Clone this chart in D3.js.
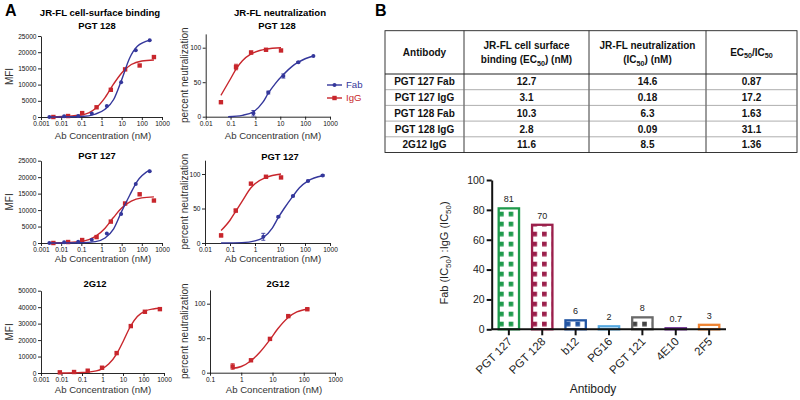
<!DOCTYPE html>
<html>
<head>
<meta charset="utf-8">
<script src="https://cdn.jsdelivr.net/npm/d3@7"></script>
<style>
  body { margin: 0; background: #fff; }
  svg { display: block; }
</style>
</head>
<body>
<svg id="fig" width="800" height="400"></svg>
<script>
// ---- Panel A data: [concentration nM, value, error] ----
const bind128Fab = [[0.0026, 0], [0.014, 200], [0.07, 300], [0.33, 1100], [1.84, 3400], [9.4, 10700], [50, 20600], [246, 23700]];
const bind128IgG = [[0.0041, 0], [0.022, 300], [0.11, 1200], [0.57, 3000], [2.9, 8400], [14.8, 14700], [78, 15900], [398, 18500]];
const bind128FabFit = [[0.0026, 0], [0.1, 150], [0.5, 900], [1.5, 2400], [4, 5400], [10, 11500], [25, 18200], [60, 21800], [246, 23700]];
const bind128IgGFit = [[0.0041, 0], [0.1, 600], [0.5, 2600], [1.5, 6000], [4, 10200], [10, 13600], [30, 16200], [100, 17300], [398, 17600]];

const bind127Fab = [[0.0026, 0], [0.014, 200], [0.07, 400], [0.33, 1000], [1.84, 2900], [9.4, 8800], [50, 17900], [246, 21800]];
const bind127IgG = [[0.0041, 0], [0.022, 300], [0.11, 900], [0.57, 1800], [2.9, 6500], [14.8, 12000], [78, 14800], [398, 12900]];
const bind127FabFit = [[0.0026, 0], [0.1, 60], [0.5, 400], [1.5, 1500], [4, 4300], [10, 9600], [25, 14500], [60, 18800], [246, 22200]];
const bind127IgGFit = [[0.0041, 0], [0.1, 500], [0.5, 2000], [1.5, 4500], [4, 7800], [10, 10600], [30, 12700], [100, 13700], [398, 14000]];

const bind2G12 = [[0.0083, 400], [0.041, 600], [0.19, 1400], [0.95, 3200], [4.9, 12100], [24, 28500], [117, 37200], [630, 38800]];
const bind2G12Fit = [[0.0083, 0], [0.1, 300], [0.5, 1300], [1, 2700], [2, 5400], [5, 11800], [10, 19000], [24, 28700], [50, 34300], [117, 37600], [300, 38900], [630, 39300]];

const neut128Fab = [[0.83, 5, 4], [3.3, 35, 2], [13.3, 59, 3], [53, 79, 1], [215, 88, 0]];
const neut128IgG = [[0.041, 21, 0], [0.166, 72, 4], [0.67, 93, 2], [2.67, 97, 1], [10.7, 96, 1]];
const neut128FabFit = [[0.08, 0], [0.3, 2], [0.83, 7], [2, 21], [3.3, 34], [6.3, 48], [13.3, 61], [30, 73], [53, 79], [100, 84], [215, 88]];
const neut128IgGFit = [[0.041, 31], [0.1, 55], [0.166, 69], [0.3, 81], [0.67, 91], [1.5, 96], [2.67, 98], [10.7, 100]];

const neut127Fab = [[2.15, 9, 5], [8.6, 38, 1], [33, 68, 1], [132, 90, 1], [510, 98, 1]];
const neut127IgG = [[0.044, 11, 2], [0.17, 47, 2], [0.69, 86, 1], [2.75, 96, 1], [11, 95, 1]];
const neut127FabFit = [[0.044, 0], [0.3, 0.5], [1, 3], [2.15, 8], [5, 22], [8.6, 37], [14.6, 50], [33, 68], [60, 80], [132, 90], [510, 97.5]];
const neut127IgGFit = [[0.044, 18], [0.1, 33], [0.17, 46], [0.3, 60], [0.69, 80], [1, 86], [2.75, 95], [11, 100]];

const neut2G12 = [[0.53, 9, 4], [2.05, 18, 1], [8.3, 49, 1], [32, 82, 1], [130, 92, 1]];
const neut2G12Fit = [[0.5, 6], [1, 9], [2, 17], [4, 30], [8.3, 48], [15, 64], [32, 80], [60, 88], [130, 92]];

const bindTicks = [0.001, 0.01, 0.1, 1, 10, 100, 1000];
const neutTicks = [0.01, 0.1, 1, 10, 100, 1000];
const neut2G12Ticks = [0.1, 1, 10, 100, 1000];
const mfiTicks25 = [0, 5000, 10000, 15000, 20000, 25000];
const mfiTicks50 = [0, 10000, 20000, 30000, 40000, 50000];
const pctTicks = [0, 50, 100];

// ---- Panel B table ----
const tableAntibodies = ["PGT 127 Fab", "PGT 127 IgG", "PGT 128 Fab", "PGT 128 IgG", "2G12 IgG"];
const tableBinding = ["12.7", "3.1", "10.3", "2.8", "11.6"];
const tableNeut = ["14.6", "0.18", "6.3", "0.09", "8.5"];
const tableRatio = ["0.87", "17.2", "1.63", "31.1", "1.36"];
const tableHeaders = [
  [[{t: "Antibody"}]],
  [[{t: "JR-FL cell surface"}], [{t: "binding (EC"}, {t: "50", sub: true}, {t: ") (nM)"}]],
  [[{t: "JR-FL neutralization"}], [{t: "(IC"}, {t: "50", sub: true}, {t: ") (nM)"}]],
  [[{t: "EC"}, {t: "50", sub: true}, {t: "/IC"}, {t: "50", sub: true}]]
];

// ---- Panel B bars ----
const barAntibodies = ["PGT 127", "PGT 128", "b12", "PG16", "PGT 121", "4E10", "2F5"];
const barRatios = [81, 70, 6, 2, 8, 0.7, 3];
const barLabels = ["81", "70", "6", "2", "8", "0.7", "3"];
const barTicks = [0, 20, 40, 60, 80, 100];

const FONT = "'Liberation Sans', Arial, Helvetica, sans-serif";
const BLUE = "#34379b";
const RED = "#c8262c";
const barColors = {"PGT 127": "#1f9a4c", "PGT 128": "#9b1f4b", "b12": "#2255a3", "PG16": "#55a8e0",
                   "PGT 121": "#6a6a6a", "4E10": "#6e2f91", "2F5": "#f08533"};
const patterned = new Set(["PGT 127", "PGT 128", "b12", "PGT 121"]);

const svg = d3.select("#fig").attr("font-family", FONT);

// Text with subscript pieces
function richText(sel, parts, size) {
  let shift = 0;
  parts.forEach(p => {
    const want = p.sub ? size * 0.25 : 0;
    sel.append("tspan")
      .attr("dy", want - shift)
      .attr("font-size", p.sub ? size * 0.72 : size)
      .text(p.t);
    shift = want;
  });
}

// Panel letters and column headers
svg.append("text").attr("x", 5).attr("y", 16).attr("font-size", 16).attr("font-weight", "bold").text("A");
svg.append("text").attr("x", 375).attr("y", 16).attr("font-size", 16).attr("font-weight", "bold").text("B");
svg.append("text").attr("x", 100).attr("y", 15.5).attr("text-anchor", "middle")
  .attr("font-size", 9.6).attr("font-weight", "bold").text("JR-FL cell-surface binding");
svg.append("text").attr("x", 280).attr("y", 15.5).attr("text-anchor", "middle")
  .attr("font-size", 9.6).attr("font-weight", "bold").text("JR-FL neutralization");

// Draw one dose-response panel
function drawCurvePanel(p) {
  const x = d3.scaleLog().domain(p.xDomain).range(p.xRange);
  const y = d3.scaleLinear().domain(p.yDomain).range(p.yRange);
  const g = svg.append("g");

  const xAxis = g.append("g")
    .attr("transform", `translate(0,${p.yRange[0]})`)
    .call(d3.axisBottom(x).tickValues(p.xTicks).tickFormat(d => String(d))
      .tickSize(3).tickSizeOuter(0).tickPadding(1.5));
  const yAxis = g.append("g")
    .attr("transform", `translate(${p.xRange[0]},0)`)
    .call(d3.axisLeft(y).tickValues(p.yTicks).tickFormat(d => String(d))
      .tickSize(3).tickSizeOuter(0).tickPadding(1.5));
  [xAxis, yAxis].forEach(a => {
    a.attr("font-family", FONT).attr("font-size", 6.6);
    a.selectAll("path, line").attr("stroke", "#111").attr("stroke-width", 0.9);
    a.selectAll("text").attr("fill", "#111");
  });

  const line = d3.line().x(d => x(d[0])).y(d => y(d[1])).curve(d3.curveMonotoneX);

  p.series.forEach(s => {
    g.append("path").datum(s.fit)
      .attr("d", line).attr("fill", "none")
      .attr("stroke", s.color).attr("stroke-width", 1.4);

    // error bars
    g.append("g").selectAll("path")
      .data(s.points.filter(d => d[2]))
      .join("path")
      .attr("d", d => {
        const cx = x(d[0]), y0 = y(d[1] - d[2]), y1 = y(d[1] + d[2]);
        return `M${cx},${y0}V${y1}M${cx - 2},${y0}H${cx + 2}M${cx - 2},${y1}H${cx + 2}`;
      })
      .attr("stroke", s.color).attr("stroke-width", 0.9).attr("fill", "none");

    if (s.shape === "circle") {
      g.append("g").selectAll("circle").data(s.points).join("circle")
        .attr("cx", d => x(d[0])).attr("cy", d => y(d[1])).attr("r", 2)
        .attr("fill", s.color);
    } else {
      g.append("g").selectAll("rect").data(s.points).join("rect")
        .attr("x", d => x(d[0]) - 2.2).attr("y", d => y(d[1]) - 2.2)
        .attr("width", 4.4).attr("height", 4.4)
        .attr("fill", s.color);
    }
  });

  // subtitle
  g.append("text").attr("x", p.titleX).attr("y", p.titleY).attr("text-anchor", "middle")
    .attr("font-size", 9.4).attr("font-weight", "bold").text(p.title);
  // y label
  const ymid = (p.yRange[0] + p.yRange[1]) / 2;
  g.append("text").attr("transform", `translate(${p.ylabX},${ymid}) rotate(-90)`)
    .attr("text-anchor", "middle").attr("font-size", p.ylabSize).attr("fill", "#333").text(p.ylab);
  // x label
  g.append("text").attr("x", p.xlabX).attr("y", p.xlabY).attr("text-anchor", "middle")
    .attr("font-size", 9.6).attr("fill", "#333").text("Ab Concentration (nM)");
}

const fab = (points, fit) => ({points, fit, color: BLUE, shape: "circle"});
const igg = (points, fit) => ({points, fit, color: RED, shape: "square"});

const panels = [
  {xRange: [41, 162], yRange: [117, 36], xDomain: [0.001, 1000], yDomain: [0, 25000],
   xTicks: bindTicks, yTicks: mfiTicks25, title: "PGT 128", titleX: 97, titleY: 28.5,
   ylab: "MFI", ylabX: 13, ylabSize: 10, xlabX: 103, xlabY: 138.5,
   series: [igg(bind128IgG, bind128IgGFit), fab(bind128Fab, bind128FabFit)]},
  {xRange: [41, 162], yRange: [243, 160.7], xDomain: [0.001, 1000], yDomain: [0, 25000],
   xTicks: bindTicks, yTicks: mfiTicks25, title: "PGT 127", titleX: 97, titleY: 158.5,
   ylab: "MFI", ylabX: 13, ylabSize: 10, xlabX: 103, xlabY: 262,
   series: [igg(bind127IgG, bind127IgGFit), fab(bind127Fab, bind127FabFit)]},
  {xRange: [41, 164], yRange: [373, 290.7], xDomain: [0.001, 1000], yDomain: [0, 50000],
   xTicks: bindTicks, yTicks: mfiTicks50, title: "2G12", titleX: 95, titleY: 286.5,
   ylab: "MFI", ylabX: 13, ylabSize: 10, xlabX: 103, xlabY: 392.5,
   series: [igg(bind2G12, bind2G12Fit)]},
  {xRange: [205.7, 330], yRange: [116.7, 33.9], xDomain: [0.01, 1000], yDomain: [0, 120],
   xTicks: neutTicks, yTicks: pctTicks, title: "PGT 128", titleX: 277, titleY: 28.5,
   ylab: "percent neutralization", ylabX: 188, ylabSize: 10, xlabX: 273, xlabY: 138.5,
   series: [igg(neut128IgG, neut128IgGFit), fab(neut128Fab, neut128FabFit)]},
  {xRange: [205, 330], yRange: [243, 160.2], xDomain: [0.01, 1000], yDomain: [0, 120],
   xTicks: neutTicks, yTicks: pctTicks, title: "PGT 127", titleX: 280, titleY: 160,
   ylab: "percent neutralization", ylabX: 188, ylabSize: 10, xlabX: 273, xlabY: 262,
   series: [igg(neut127IgG, neut127IgGFit), fab(neut127Fab, neut127FabFit)]},
  {xRange: [210, 335], yRange: [372.7, 289.9], xDomain: [0.1, 1000], yDomain: [0, 120],
   xTicks: neut2G12Ticks, yTicks: pctTicks, title: "2G12", titleX: 278, titleY: 286.5,
   ylab: "percent neutralization", ylabX: 188, ylabSize: 10, xlabX: 274, xlabY: 392.5,
   series: [igg(neut2G12, neut2G12Fit)]}
];
panels.forEach(drawCurvePanel);

// Legend
const legend = svg.append("g");
[{name: "Fab", color: BLUE, shape: "circle", y: 85}, {name: "IgG", color: RED, shape: "square", y: 98}]
  .forEach(it => {
    legend.append("line").attr("x1", 327).attr("x2", 342).attr("y1", it.y).attr("y2", it.y)
      .attr("stroke", it.color).attr("stroke-width", 1.4);
    if (it.shape === "circle") {
      legend.append("circle").attr("cx", 334.5).attr("cy", it.y).attr("r", 2).attr("fill", it.color);
    } else {
      legend.append("rect").attr("x", 332.3).attr("y", it.y - 2.2).attr("width", 4.4).attr("height", 4.4).attr("fill", it.color);
    }
    legend.append("text").attr("x", 346).attr("y", it.y + 3.4).attr("font-size", 9.6)
      .attr("fill", it.color).text(it.name);
  });

// ---- Table ----
const colX = [385, 464, 589, 706, 797];
const tTop = 30.7, tHead = 74, rowH = 15.7;
const tRows = tableAntibodies.map((a, i) => [a, tableBinding[i], tableNeut[i], tableRatio[i]]);
const tBottom = tHead + rowH * tRows.length;
const tg = svg.append("g").attr("font-weight", "bold").attr("fill", "#111");

tg.append("rect").attr("x", colX[0]).attr("y", tTop).attr("width", colX[4] - colX[0])
  .attr("height", tBottom - tTop).attr("fill", "none").attr("stroke", "#222").attr("stroke-width", 0.9);
colX.slice(1, 4).forEach(cx => {
  tg.append("line").attr("x1", cx).attr("x2", cx).attr("y1", tTop).attr("y2", tBottom)
    .attr("stroke", "#222").attr("stroke-width", 0.9);
});
tRows.forEach((r, i) => {
  const y0 = tHead + i * rowH;
  tg.append("line").attr("x1", colX[0]).attr("x2", colX[4]).attr("y1", y0).attr("y2", y0)
    .attr("stroke", i === 0 ? "#222" : "#777").attr("stroke-width", i === 0 ? 1 : 0.6);
  r.forEach((v, j) => {
    tg.append("text").attr("x", (colX[j] + colX[j + 1]) / 2).attr("y", y0 + rowH / 2 + 3.6)
      .attr("text-anchor", "middle").attr("font-size", 10).text(v);
  });
});
tableHeaders.forEach((lines, j) => {
  const cx = (colX[j] + colX[j + 1]) / 2;
  const mid = (tTop + tHead) / 2;
  lines.forEach((parts, k) => {
    const cy = mid + (k - (lines.length - 1) / 2) * 14.3;
    const t = tg.append("text").attr("x", cx).attr("y", cy + 3.6).attr("text-anchor", "middle");
    richText(t, parts, 10);
  });
});

// ---- Bar chart ----
const xb = d3.scaleBand().domain(barAntibodies).range([492, 726]).paddingInner(0.39).paddingOuter(0.2);
const yb = d3.scaleLinear().domain([0, 100]).range([329.3, 180]);
const bg = svg.append("g");
const defs = svg.append("defs");

barAntibodies.forEach((name, i) => {
  if (!patterned.has(name)) return;
  const pat = defs.append("pattern").attr("id", "pat" + i)
    .attr("patternUnits", "userSpaceOnUse").attr("width", 9.6).attr("height", 10)
    .attr("patternTransform", `translate(${xb(name) + 0.4},${yb(0) - 7.6})`);
  pat.append("rect").attr("width", 9.6).attr("height", 10).attr("fill", "#fff");
  pat.append("rect").attr("width", 4.6).attr("height", 4.7)
    .attr("fill", name === "PGT 121" ? "#444" : barColors[name]);
});

bg.selectAll("rect.bar").data(barRatios).join("rect").attr("class", "bar")
  .attr("x", (d, i) => xb(barAntibodies[i]))
  .attr("y", d => yb(d))
  .attr("width", xb.bandwidth())
  .attr("height", d => yb(0) - yb(d))
  .attr("fill", (d, i) => patterned.has(barAntibodies[i]) ? `url(#pat${i})` : "#fff")
  .attr("stroke", (d, i) => barColors[barAntibodies[i]])
  .attr("stroke-width", 2.3);

bg.selectAll("text.val").data(barRatios).join("text").attr("class", "val")
  .attr("x", (d, i) => xb(barAntibodies[i]) + xb.bandwidth() / 2)
  .attr("y", d => yb(d) - 6)
  .attr("text-anchor", "middle").attr("font-size", 9).attr("fill", "#222")
  .text((d, i) => barLabels[i]);

const byAxis = bg.append("g").attr("transform", `translate(491.7,0)`)
  .call(d3.axisLeft(yb).tickValues(barTicks).tickSize(5).tickSizeOuter(0).tickPadding(2));
const bxAxis = bg.append("g").attr("transform", `translate(0,${yb(0)})`)
  .call(d3.axisBottom(xb).tickSize(6).tickSizeOuter(0).tickFormat(""));
bxAxis.select(".domain").attr("d", `M491.7,0H726`);
[byAxis, bxAxis].forEach(a => {
  a.attr("font-family", FONT).attr("font-size", 10.5);
  a.selectAll("path, line").attr("stroke", "#111").attr("stroke-width", 2);
  a.selectAll("text").attr("fill", "#222");
});

// rotated category labels
bg.append("g").selectAll("text.cat").data(barAntibodies).join("text").attr("class", "cat")
  .attr("transform", d => `translate(${xb(d) + xb.bandwidth() / 2 + 4},${yb(0) + 13}) rotate(-45)`)
  .attr("text-anchor", "end").attr("font-size", 11.5).attr("fill", "#222")
  .text(d => d);

const ylab = bg.append("text").attr("transform", "translate(448,253) rotate(-90)")
  .attr("text-anchor", "middle").attr("fill", "#222");
richText(ylab, [{t: "Fab (IC"}, {t: "50", sub: true}, {t: ") :IgG (IC"}, {t: "50", sub: true}, {t: ")"}], 11);
bg.append("text").attr("x", 593).attr("y", 393).attr("text-anchor", "middle")
  .attr("font-size", 12).attr("fill", "#222").text("Antibody");
</script>
</body>
</html>
